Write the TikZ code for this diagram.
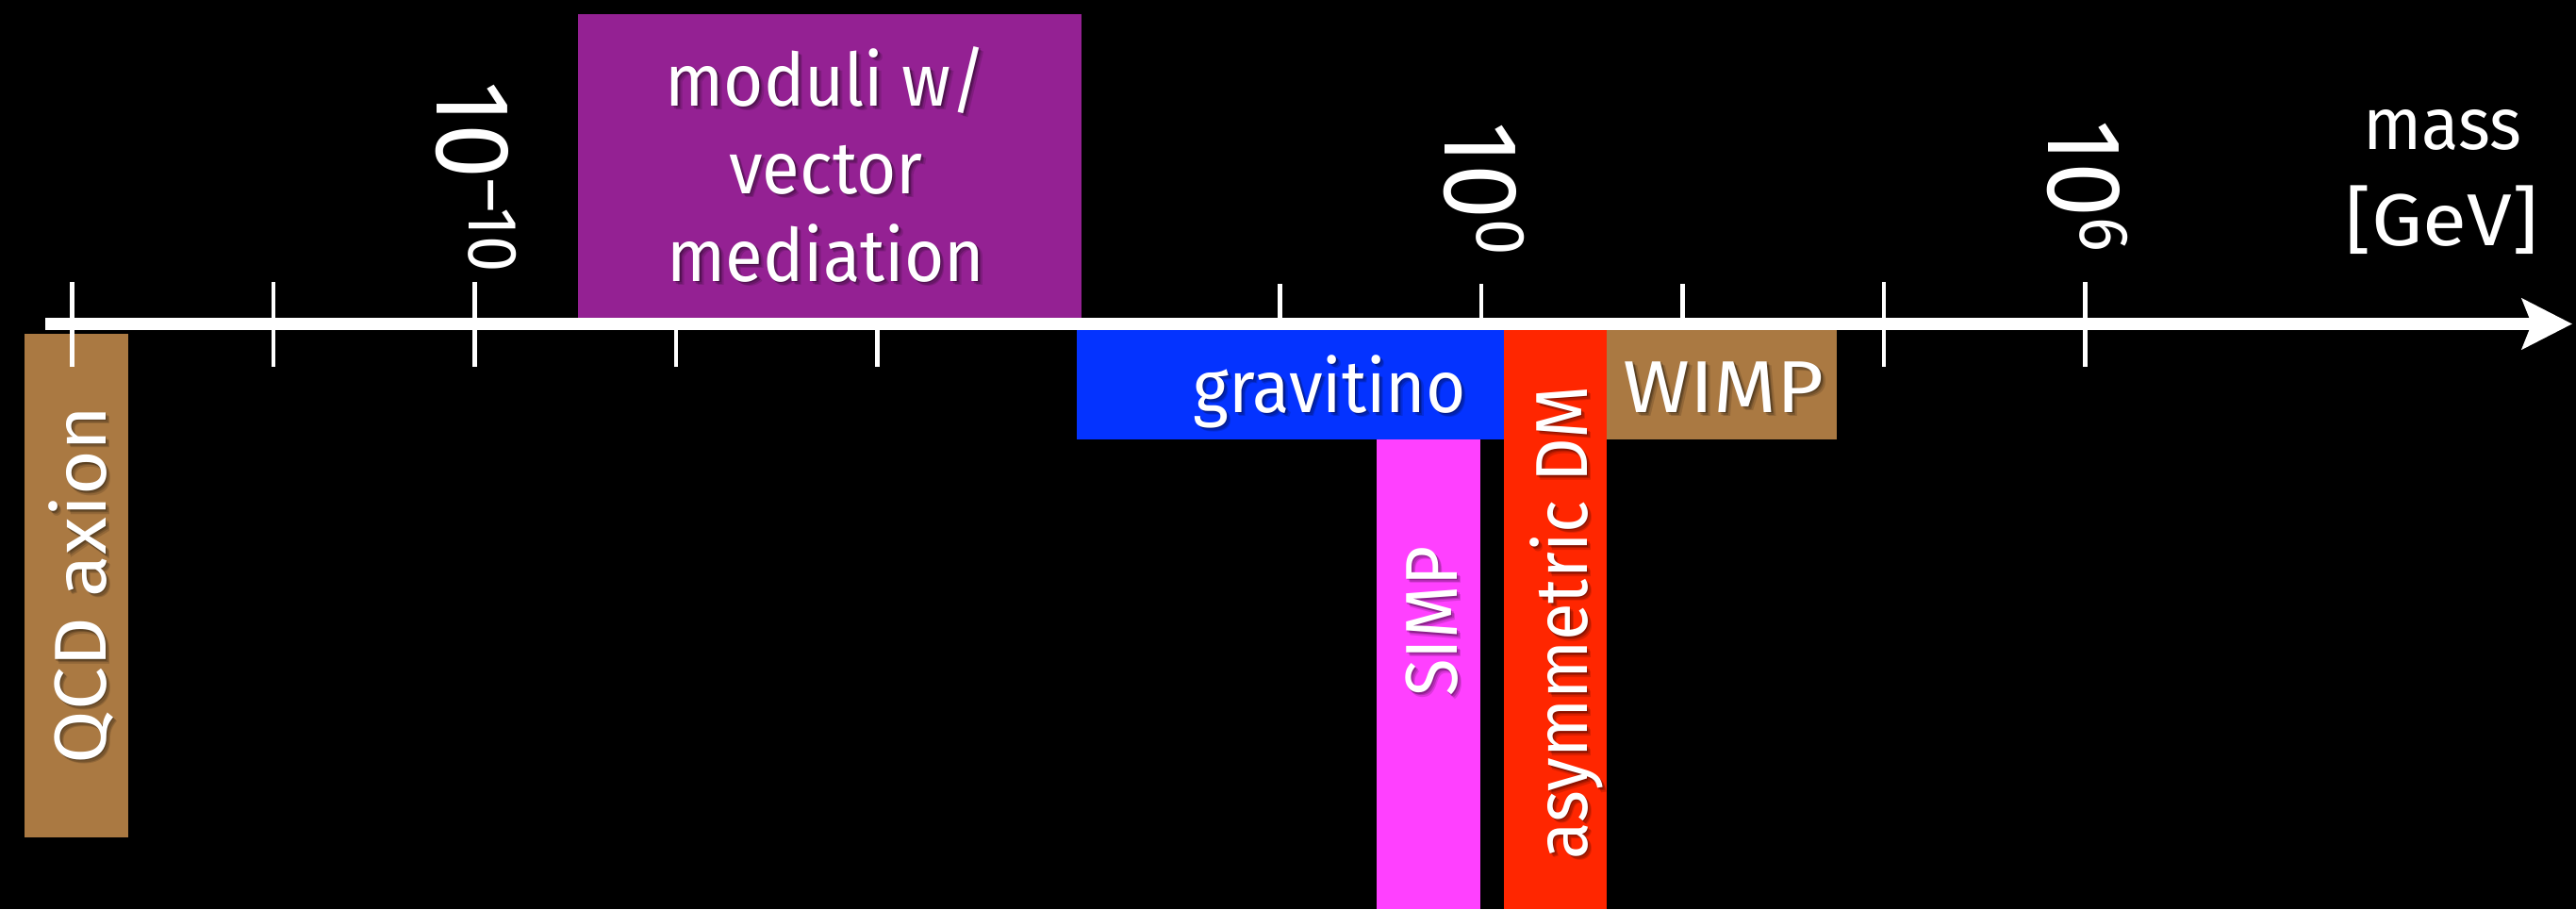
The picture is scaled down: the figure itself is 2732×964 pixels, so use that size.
\documentclass[tikz,border=0pt]{standalone}
\usepackage{fontspec}
\setmainfont{Fira Sans}[FakeStretch=0.93]
\newfontfamily\midsans{Fira Sans}[FakeStretch=1.05]
\newfontfamily\widesans{Fira Sans}[FakeStretch=1.1]
\usetikzlibrary{arrows.meta}

\definecolor{plum}{HTML}{942193}
\definecolor{gravblue}{HTML}{0433FF}
\definecolor{asymred}{HTML}{FF2600}
\definecolor{simpmag}{HTML}{FF40FF}
\definecolor{mocha}{HTML}{AA7942}

\newcommand\lblsize{\fontsize{78}{93}\selectfont}
\newcommand\lblfont{\lblsize}
\newcommand\tickfont{\fontsize{112}{112}\selectfont}
% power of ten with a raised, smaller exponent
\newcommand\tenpow[1]{10\raisebox{34pt}{\fontsize{74}{74}\selectfont #1}}
% white label with a soft dark drop shadow
\newcommand\shadowed[4][]{%
  \foreach \i/\d/\o in {1/1.5/.22,2/3/.18,3/4.5/.14}{%
    \begin{scope}[shift={(\d,-\d)}]
      \node[lbl,#1,text=black,text opacity=\o] (#2-sh\i) at #3 {#4};
    \end{scope}}%
  \node[lbl,#1] (#2) at #3 {#4};}

\begin{document}
\begin{tikzpicture}[x=1pt,y=1pt,
  lbl/.style={text=white,inner sep=0pt,outer sep=0pt,font=\lblfont},
  tickmark/.style={white,line width=4.5pt},
  axisline/.style={white,line width=13pt,-{Stealth[length=53pt,width=53pt,inset=10pt]}},
  ticklbl/.style={text=white,inner sep=0pt,outer sep=0pt,rotate=-90,anchor=base,font=\tickfont}]

% canvas
\fill[black] (0,0) rectangle (2732,-964);
\useasboundingbox (0,0) rectangle (2732,-964);

% mass ranges of the candidates
\fill[mocha]    (26,-354)   rectangle (136,-888);
\fill[plum]     (613,-15)   rectangle (1147,-337);
\fill[gravblue] (1142,-350) rectangle (1595,-466);
\fill[simpmag]  (1460,-466) rectangle (1570,-964);
\fill[asymred]  (1595,-350) rectangle (1704,-964);
\fill[mocha]    (1704,-350) rectangle (1948,-466);

% tick marks, two decades apart
\foreach \k in {0,1,2,9,10}
  \draw[tickmark] ({76.5+213.5*\k},-299) -- ++(0,-90);
\foreach \k in {3,4}
  \draw[tickmark] ({76.5+213.5*\k},-343) -- ++(0,-46);
\foreach \k in {6,7,8}
  \draw[tickmark] ({76.5+213.5*\k},-301) -- ++(0,-42);

% mass axis
\coordinate (axstart) at (48,-343.5);
\coordinate (axend) at (2728,-343.5);
\draw[axisline] (axstart) -- (axend);

% tick labels
\node[ticklbl] (tmten) at (463,-187.5) {\tenpow{\textendash10}};
\node[ticklbl] (tzero) at (1532,-200) {\tenpow{0}};
\node[ticklbl] (tsix)  at (2172,-197) {\tenpow{6}};

% axis title
\node[lbl,anchor=base] (mass) at (2590,-158) {mass};
\node[lbl,anchor=base,font={\widesans\lblsize}] (gev) at (2590,-260) {[GeV]};

% candidate names
\shadowed[anchor=base]{modA}{(876,-112)}{moduli w/}
\shadowed[anchor=base]{modB}{(876,-205)}{vector}
\shadowed[anchor=base]{modC}{(876,-298)}{mediation}
\shadowed[anchor=base]{grav}{(1410,-437)}{gravitino}
\shadowed[anchor=base,font={\widesans\lblsize}]{wimp}{(1828,-437)}{WIMP}
\shadowed[anchor=base,rotate=90]{simp}{(1545,-659)}{SIMP}
\shadowed[anchor=base,rotate=90]{asym}{(1683,-660)}{asymmetric DM}
\shadowed[anchor=base,rotate=90,font={\midsans\lblsize}]{qcd}{(112,-620)}{QCD axion}
\end{tikzpicture}
\end{document}
